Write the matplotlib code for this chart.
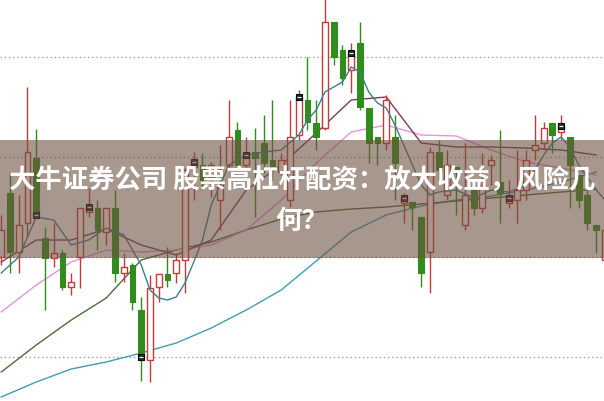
import matplotlib
matplotlib.use("Agg")
import matplotlib.pyplot as plt
from matplotlib.patches import Rectangle
import numpy as np

# ---- candle data (price units) ----
opens  = [20.0,26.4,20.5,23.4,29.9,21.9,19.9,20.4,17.0,20.0,24.5,24.9,22.5,24.9,18.4,19.2,14.7,9.7,17.0,18.3,
          18.4,19.7,29.0,29.2,28.0,25.7,29.2,32.7,29.2,30.5,31.4,29.7,28.5,25.7,32.2,35.7,33.4,32.9,43.5,40.7,
          38.7,41.4,34.9,32.0,31.4,32.0,25.4,25.5,24.0,20.5,30.5,26.2,29.0,23.2,26.7,24.9,29.2,27.5,25.4,25.7,
          26.7,30.7,31.4,33.4,32.5,32.0,28.2,26.2,23.2,19.7]
highs  = [24.2,28.5,26.2,37.0,32.8,23.0,23.4,20.7,18.4,24.9,26.9,25.7,24.9,26.7,20.4,19.4,16.0,18.2,18.3,21.0,
          20.4,28.9,30.5,30.4,29.5,31.2,35.7,33.5,32.0,32.9,34.2,35.7,30.4,35.7,36.7,40.0,35.7,46.5,43.5,41.2,
          41.4,43.5,34.9,32.0,36.2,34.2,26.4,25.5,24.0,31.0,31.7,30.7,29.0,31.4,27.2,30.4,30.2,32.7,27.7,30.7,
          30.7,34.2,33.5,33.4,34.2,32.0,28.2,26.7,23.2,24.0]
lows   = [19.2,18.4,18.4,22.0,23.9,14.7,19.0,16.7,16.2,16.9,24.0,20.7,21.2,17.5,17.5,14.7,7.6,7.5,15.5,17.0,
          17.4,16.4,25.7,26.7,26.0,22.7,29.0,28.7,29.0,24.0,28.4,27.7,28.2,25.0,31.7,32.7,30.7,32.7,39.2,37.2,
          36.4,34.7,29.4,29.2,30.7,25.7,23.4,22.7,17.0,16.4,27.7,25.7,24.2,22.7,24.2,24.4,27.2,23.4,24.9,23.4,
          25.7,29.7,30.7,30.4,31.7,24.9,24.9,22.7,20.4,19.2]
closes = [22.7,20.5,23.2,30.5,24.2,19.9,20.4,17.0,17.5,24.9,25.0,22.7,24.9,18.4,19.0,15.5,10.0,16.9,18.3,17.7,
          19.7,28.7,29.5,27.7,29.2,27.2,32.0,29.2,30.2,29.9,29.4,28.7,29.7,32.0,36.0,33.5,32.0,43.5,40.0,37.9,
          40.4,35.0,31.4,31.4,35.7,29.4,25.9,25.0,18.4,30.5,28.7,29.2,28.5,26.2,24.9,27.2,29.7,26.4,25.9,26.7,
          29.7,31.2,32.9,32.2,33.1,29.2,25.7,23.4,22.7,22.7]
marker_idx = [4, 10, 16, 22, 28, 34, 40, 46, 58, 64]
marker_colors = ["#1d2d3d", "#1d2d3d", "#1d2d3d", "#1d2d3d", "#1d2d3d", "#1d2d3d", "#1d2d3d",
                 "#5a2030", "#5a2030", "#1d2d3d"]

# ---- moving-average lines ----
ma_idx_long = [0,4,8,12,16,20,24,28,32,36,40,44,48,52,56,60,64,68]
ma60 = [6.0,7.5,8.8,9.5,10.4,11.4,12.9,14.7,16.7,19.6,22.5,24.2,25.1,25.7,26.1,26.7,27.5,28.5]
ma30 = [8.5,11.2,13.7,15.9,19.7,20.7,21.5,22.7,23.8,24.5,24.8,25.0,25.3,25.6,25.9,26.2,26.5,26.8]
ma20 = [14.5,17.2,19.5,20.7,20.5,20.7,21.2,22.7,25.7,29.4,32.5,33.2,32.2,32.1,30.7,29.5,28.9,28.2]
ma10 = [19.5,21.7,21.7,22.8,21.2,20.2,21.7,26.7,29.2,32.4,35.7,36.0,31.4,31.0,31.0,30.9,30.7,30.2]
ma5_idx = [0,2,4,6,8,10,12,14,16,17,18,19,20,21,22,23,24,26,28,30,32,34,35,36,37,38,39,40,41,42,43,44,
           45,46,47,48,49,50,52,54,56,58,60,62,63,64,65,66,68,69]
ma5 = [18.4,20.0,24.0,23.7,21.2,21.7,22.9,22.2,19.2,16.7,15.9,15.7,16.0,17.4,19.5,21.7,25.2,29.2,30.2,30.5,
       30.7,32.2,33.7,34.7,36.5,37.0,37.5,39.0,38.5,36.5,35.4,34.9,33.2,31.2,29.2,27.2,26.2,26.5,26.7,25.9,
       26.7,26.5,27.2,30.2,31.4,32.0,31.0,29.2,26.7,25.7]
grid_levels = [40, 30, 20, 10]

title_line1 = "大牛证券公司 股票高杠杆配资：放大收益，风险几"
title_line2 = "何？"

RED = "#c9393b"
GREEN = "#2f8c1d"

fig = plt.figure(figsize=(6.04, 4.01), dpi=100)
ax = fig.add_axes([0, 0, 1, 1])
ax.set_xlim(-0.143, 68.89)
ax.set_ylim(5.6, 45.7)
ax.axis("off")

for g in grid_levels:
    ax.axhline(g, color="#a0a0a0", lw=1.0, ls=(0, (1, 2)), zorder=1)

o = np.array(opens); h = np.array(highs); l = np.array(lows); c = np.array(closes)
idx = np.arange(len(o))
up = c >= o
w = 0.68
for i in idx:
    top = max(o[i], c[i]); bot = min(o[i], c[i])
    if up[i]:
        ax.vlines(i, top, h[i], color=RED, lw=1.0, zorder=3)
        ax.vlines(i, l[i], bot, color=RED, lw=1.0, zorder=3)
        ax.add_patch(Rectangle((i - w/2, bot), w, max(top - bot, 0.12), facecolor="white",
                               edgecolor=RED, lw=1.0, zorder=3))
    else:
        ax.vlines(i, l[i], h[i], color=GREEN, lw=1.0, zorder=3)
        ax.add_patch(Rectangle((i - w/2, bot), w, max(top - bot, 0.12), facecolor=GREEN,
                               edgecolor=GREEN, lw=0.8, zorder=3))

ax.plot(ma_idx_long, ma60, color="#3f9fae", lw=1.0, zorder=2)
ax.plot(ma_idx_long, ma30, color="#4f6a3a", lw=1.0, zorder=2)
ax.plot(ma_idx_long, ma20, color="#e493e8", lw=1.0, zorder=2)
ax.plot(ma_idx_long, ma10, color="#7b3a5e", lw=1.0, zorder=2)
ax.plot(ma5_idx, ma5, color="#3d7f8a", lw=1.0, zorder=4)

for mi, mc in zip(marker_idx, marker_colors):
    ax.plot([mi], [c[mi]], ls="none", marker="s", ms=5, mfc=mc, mec="black", mew=0.8, zorder=5)
    ax.plot([mi], [c[mi]], ls="none", marker="_", ms=3, mec="white", mew=0.8, zorder=6)

# banner
fig.patches.append(Rectangle((0, 1 - 258/401), 1, 118/401, transform=fig.transFigure,
                             facecolor="#6e5240", alpha=0.6, edgecolor="none", zorder=10))
fam = ["Noto Sans CJK SC", "DejaVu Sans"]
fig.text(0.5, 1 - 181/401, title_line1, ha="center", va="center", color="white",
         fontsize=19, fontweight="bold", family=fam, zorder=11)
fig.text(0.5, 1 - 221/401, title_line2, ha="center", va="center", color="white",
         fontsize=19, fontweight="bold", family=fam, zorder=11)

fig.savefig("out.png", dpi=100)
